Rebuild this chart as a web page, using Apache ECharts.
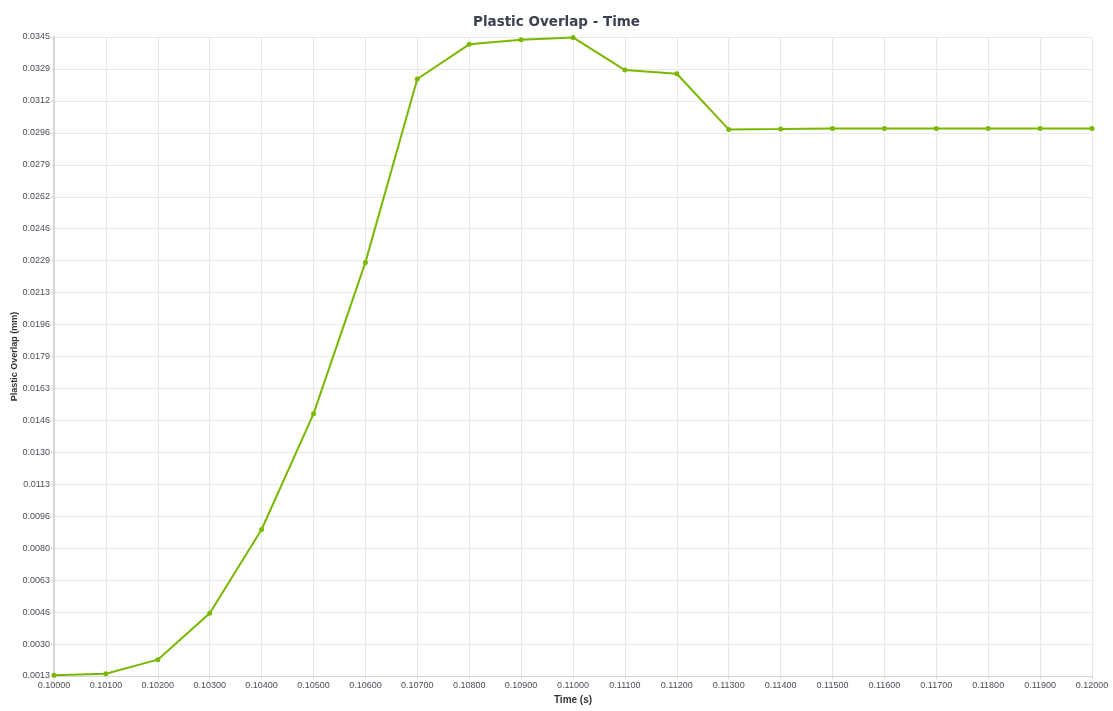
<!DOCTYPE html>
<html>
<head>
<meta charset="utf-8">
<script src="https://cdn.jsdelivr.net/npm/echarts@6/dist/echarts.min.js"></script>
<style>
html,body{margin:0;padding:0;background:#fff;}
#chart{width:1113px;height:711px;}
</style>
</head>
<body>
<div id="chart"></div>
<script>
const timeCategories = ['0.10000','0.10100','0.10200','0.10300','0.10400','0.10500','0.10600','0.10700','0.10800','0.10900','0.11000','0.11100','0.11200','0.11300','0.11400','0.11500','0.11600','0.11700','0.11800','0.11900','0.12000'];
const overlapValues = [0.00134,0.00142,0.00215,0.00456,0.00891,0.01492,0.02279,0.03232,0.03412,0.03436,0.03448,0.03278,0.03259,0.02970,0.02972,0.02975,0.02975,0.02975,0.02975,0.02975,0.02975];
const yTickLabels = ['0.0013','0.0030','0.0046','0.0063','0.0080','0.0096','0.0113','0.0130','0.0146','0.0163','0.0179','0.0196','0.0213','0.0229','0.0246','0.0262','0.0279','0.0296','0.0312','0.0329','0.0345'];
const yMin = 0.0013, yMax = 0.0345;
const yStep = (yMax - yMin) / (yTickLabels.length - 1);
const yTickValues = yTickLabels.map((_, i) => yMin + i * yStep);

const chart = echarts.init(document.getElementById('chart'));
const labelFont = '"Liberation Sans", Arial, sans-serif';
chart.setOption({
  animation: false,
  backgroundColor: '#ffffff',
  title: {
    text: 'Plastic Overlap - Time',
    left: 'center',
    top: 10,
    textStyle: {fontFamily: '"DejaVu Sans", sans-serif', fontSize: 13.5, fontWeight: 'bold', color: '#3c4150'}
  },
  grid: {left: 54, right: 21, top: 37, bottom: 35, containLabel: false, outerBoundsMode: 'none'},
  xAxis: {
    type: 'category',
    data: timeCategories,
    boundaryGap: false,
    name: 'Time (s)',
    nameLocation: 'middle',
    nameGap: 19,
    nameMoveOverlap: false,
    nameTextStyle: {fontFamily: labelFont, fontSize: 10, fontWeight: 'bold', color: '#333333'},
    axisLine: {lineStyle: {color: '#d6d6d6', width: 1}},
    axisTick: {show: true, alignWithLabel: true, length: 3, lineStyle: {color: '#d6d6d6'}},
    axisLabel: {fontFamily: labelFont, fontSize: 9, color: '#4d4f58', margin: 5, interval: 0, hideOverlap: false},
    splitLine: {show: true, interval: 0, lineStyle: {color: '#e8e8e8', width: 1}}
  },
  yAxis: {
    type: 'value',
    min: yMin,
    max: yMax,
    name: 'Plastic Overlap (mm)',
    nameLocation: 'middle',
    nameGap: 35,
    nameMoveOverlap: false,
    nameTextStyle: {fontFamily: labelFont, fontSize: 9, fontWeight: 'bold', color: '#333333'},
    axisLine: {show: true, lineStyle: {color: '#d6d6d6', width: 2}},
    axisTick: {show: true, length: 3, customValues: yTickValues, lineStyle: {color: '#d6d6d6'}},
    axisLabel: {
      fontFamily: labelFont, fontSize: 9, color: '#4d4f58', margin: 4,
      customValues: yTickValues,
      hideOverlap: false,
      formatter: function (v) {
        const i = Math.round((v - yMin) / yStep);
        return yTickLabels[i] !== undefined ? yTickLabels[i] : '';
      }
    },
    splitLine: {show: true, lineStyle: {color: '#e8e8e8', width: 1}}
  },
  series: [{
    type: 'line',
    data: overlapValues,
    symbol: 'circle',
    symbolSize: 5,
    showSymbol: true,
    lineStyle: {color: '#7ab800', width: 2},
    itemStyle: {color: '#7ab800'}
  }]
});
</script>
</body>
</html>
